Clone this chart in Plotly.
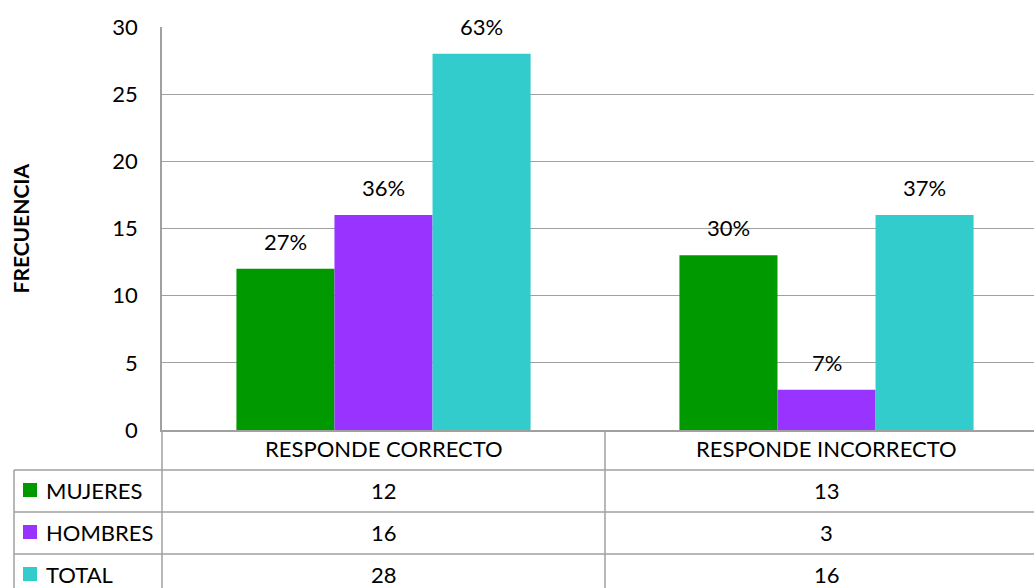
import plotly.graph_objects as go

# Data
categories = ["RESPONDE CORRECTO", "RESPONDE INCORRECTO"]
series_names = ["MUJERES", "HOMBRES", "TOTAL"]
mujeres = [12, 13]
hombres = [16, 3]
total = [28, 16]
mujeres_pct = ["27%", "30%"]
hombres_pct = ["36%", "7%"]
total_pct = ["63%", "37%"]
y_ticks = [0, 5, 10, 15, 20, 25, 30]

values = [mujeres, hombres, total]
pct_labels = [mujeres_pct, hombres_pct, total_pct]
colors = ["#009900", "#9933FF", "#33CCCC"]

FONT = "Lato"
FS = 22
GRID = "#a0a0a0"
W, H = 1034, 588
L, T, B = 162, 27, 158
PLOT_R = 1034
CAT_W = 443  # pixel width of one category slot

BARGAP = 0.336
bar_w = (1 - BARGAP) / 3

# paper-coordinate helpers for the data table drawn beneath the plot
def px(xp):
    return (xp - L) / (PLOT_R - L)

def py(yp):
    return (H - B - yp) / (H - B - T)

x_pos = list(range(len(categories)))

fig = go.Figure()
for name, vals, col in zip(series_names, values, colors):
    fig.add_trace(go.Bar(x=x_pos, y=vals, name=name, marker=dict(color=col, line=dict(width=0)),
                         showlegend=False))

txt = dict(family=FONT, size=FS, color="#000")

# percentage labels above bars
annotations = []
for k, (vals, labs) in enumerate(zip(values, pct_labels)):
    for i, (v, lab) in enumerate(zip(vals, labs)):
        annotations.append(dict(x=i + (k - 1) * bar_w, y=v, xref="x", yref="y", text=lab,
                                showarrow=False, yanchor="bottom", yshift=12, font=txt))

# axis title
annotations.append(dict(x=px(20), y=0.5, xref="paper", yref="paper", text="<b>FRECUENCIA</b>",
                        textangle=-90, showarrow=False, xanchor="center", yanchor="middle",
                        font=dict(family=FONT, size=21, color="#000")))

# data table
row_lines = [470, 512, 554]
row_centers = [490, 532, 574]
header_center = 449
for i, c in enumerate(categories):
    annotations.append(dict(x=i, y=py(header_center), xref="x", yref="paper", text=c,
                            showarrow=False, yanchor="middle", font=txt))
shapes = []
for k, (name, vals, col) in enumerate(zip(series_names, values, colors)):
    yc = row_centers[k]
    annotations.append(dict(x=px(44), y=py(yc), xref="paper", yref="paper", text=name,
                            showarrow=False, xanchor="left", yanchor="middle", font=txt))
    shapes.append(dict(type="rect", xref="paper", yref="paper", x0=px(23), x1=px(37),
                       y0=py(yc - 7), y1=py(yc + 7), fillcolor=col, line=dict(width=0)))
    for i, v in enumerate(vals):
        annotations.append(dict(x=i, y=py(yc), xref="x", yref="paper", text=str(v),
                                showarrow=False, yanchor="middle", font=txt))

line_style = dict(color=GRID, width=1.5)
for yl in row_lines:
    shapes.append(dict(type="line", xref="paper", yref="paper", x0=px(14), x1=1,
                       y0=py(yl), y1=py(yl), line=line_style))
shapes.append(dict(type="line", xref="paper", yref="paper", x0=px(14), x1=px(14),
                   y0=py(470), y1=py(600), line=line_style))
shapes.append(dict(type="line", xref="paper", yref="paper", x0=0, x1=0,
                   y0=py(430), y1=py(600), line=line_style))
shapes.append(dict(type="line", xref="x", yref="paper", x0=0.5, x1=0.5,
                   y0=py(430), y1=py(600), line=line_style))

x_max = -0.5 + (PLOT_R - L) / CAT_W

fig.update_layout(
    width=W, height=H,
    margin=dict(l=L, r=W - PLOT_R, t=T, b=B),
    paper_bgcolor="white", plot_bgcolor="white",
    barmode="group", bargap=BARGAP, bargroupgap=0,
    xaxis=dict(range=[-0.5, x_max], showticklabels=False, showgrid=False, zeroline=False,
               showline=True, linecolor=GRID, linewidth=1.5, ticks=""),
    yaxis=dict(range=[0, 30], tickvals=y_ticks, showgrid=True, gridcolor=GRID, gridwidth=1.3,
               zeroline=False, showline=True, linecolor=GRID, linewidth=1.5, ticks="",
               ticklabelstandoff=18, tickfont=txt),
    annotations=annotations,
    shapes=shapes,
)

fig.write_html("out.html")
